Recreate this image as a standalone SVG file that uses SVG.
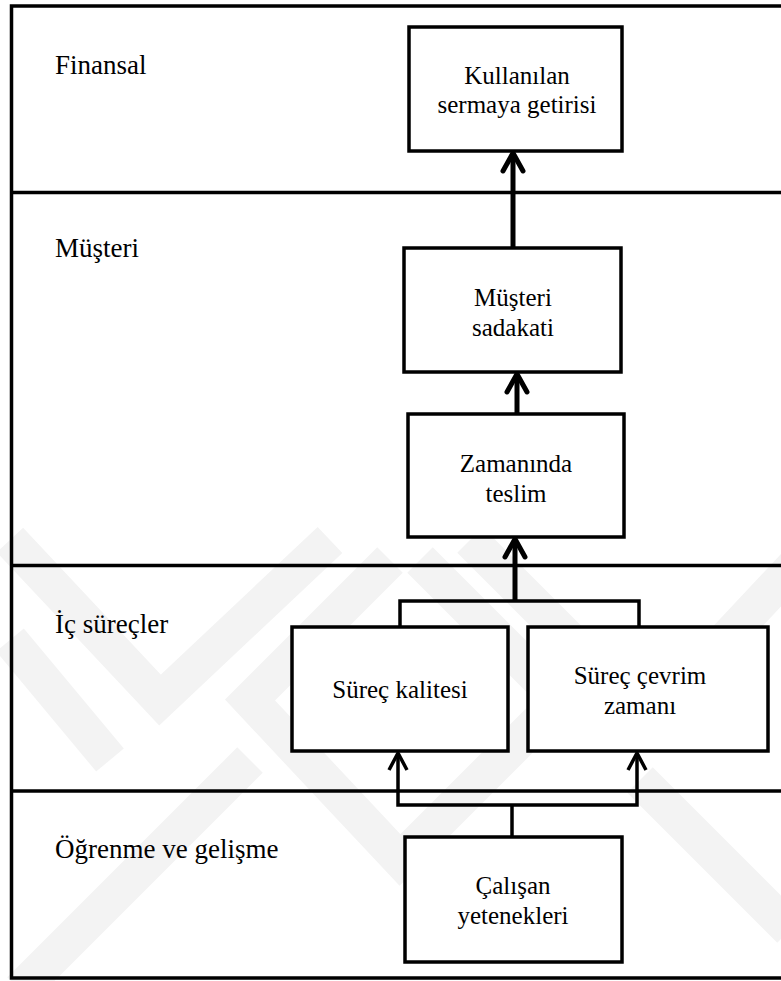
<svg xmlns="http://www.w3.org/2000/svg" width="781" height="981" viewBox="0 0 781 981">
<defs>
<polyline id="head" points="-10,18 0,0 10,18" fill="none" stroke="#000" stroke-width="5" stroke-linejoin="round" stroke-linecap="round"/>
<polyline id="headThin" points="-9,17 0,0 9,17" fill="none" stroke="#000" stroke-width="3.5" stroke-linejoin="round"/>
</defs>
<rect x="0" y="0" width="781" height="981" fill="#fff"/>
<g id="watermark" fill="none" stroke="#f3f3f3" stroke-width="36">
<polyline points="10,540 160,700 330,540"/>
<polyline points="10,640 110,760"/>
<polyline points="390,560 250,700 400,860 560,700 420,560"/>
<polyline points="470,540 650,720 800,560"/>
<polyline points="20,990 250,760"/>
<polyline points="640,780 790,930"/>
</g>
<g id="frame" fill="none" stroke="#000" stroke-width="3.5">
<rect x="11.5" y="6" width="772" height="972"/>
<line x1="11.5" y1="192.5" x2="781" y2="192.5"/>
<line x1="11.5" y1="565.5" x2="781" y2="565.5"/>
<line x1="11.5" y1="791" x2="781" y2="791"/>
</g>
<text x="55" y="74" font-family="Liberation Serif" font-size="27">Finansal</text>
<text x="55" y="257" font-family="Liberation Serif" font-size="27">Müşteri</text>
<text x="55" y="633" font-family="Liberation Serif" font-size="27">İç süreçler</text>
<text x="55" y="858" font-family="Liberation Serif" font-size="27">Öğrenme ve gelişme</text>
<g id="connectors" fill="none" stroke="#000">
<line stroke-width="5" x1="513" y1="248" x2="513" y2="155"/>
<use href="#head" x="513" y="153"/>
<line stroke-width="5" x1="517" y1="414" x2="517" y2="376"/>
<use href="#head" x="517" y="374"/>
<line stroke-width="5" x1="515" y1="601" x2="515" y2="541"/>
<use href="#head" x="515" y="539"/>
<polyline stroke-width="3.5" points="400,627 400,601 639,601 639,627"/>
<polyline stroke-width="3.5" points="398,753 398,805 637,805 637,753"/>
<use href="#headThin" x="398" y="753"/>
<use href="#headThin" x="637" y="753"/>
<line stroke-width="3.5" x1="512" y1="805" x2="512" y2="837"/>
</g>
<g id="n-kullanilan">
<rect x="409" y="27" width="213" height="124" fill="#fff" stroke="#000" stroke-width="3.5"/>
<text font-family="Liberation Serif" font-size="25" text-anchor="middle" x="517" y="84">Kullanılan</text>
<text font-family="Liberation Serif" font-size="25" text-anchor="middle" x="517" y="113">sermaya getirisi</text>
</g>
<g id="n-musteri">
<rect x="404" y="248" width="217" height="124" fill="#fff" stroke="#000" stroke-width="3.5"/>
<text font-family="Liberation Serif" font-size="25" text-anchor="middle" x="513" y="306">Müşteri</text>
<text font-family="Liberation Serif" font-size="25" text-anchor="middle" x="513" y="336">sadakati</text>
</g>
<g id="n-zamaninda">
<rect x="408" y="414" width="216" height="123" fill="#fff" stroke="#000" stroke-width="3.5"/>
<text font-family="Liberation Serif" font-size="25" text-anchor="middle" x="516" y="472">Zamanında</text>
<text font-family="Liberation Serif" font-size="25" text-anchor="middle" x="516" y="502">teslim</text>
</g>
<g id="n-surec-kalitesi">
<rect x="292" y="627" width="216" height="124" fill="#fff" stroke="#000" stroke-width="3.5"/>
<text font-family="Liberation Serif" font-size="25" text-anchor="middle" x="400" y="698">Süreç kalitesi</text>
</g>
<g id="n-surec-cevrim">
<rect x="528" y="627" width="240" height="124" fill="#fff" stroke="#000" stroke-width="3.5"/>
<text font-family="Liberation Serif" font-size="25" text-anchor="middle" x="640" y="684">Süreç çevrim</text>
<text font-family="Liberation Serif" font-size="25" text-anchor="middle" x="640" y="714">zamanı</text>
</g>
<g id="n-calisan">
<rect x="405" y="837" width="217" height="125" fill="#fff" stroke="#000" stroke-width="3.5"/>
<text font-family="Liberation Serif" font-size="25" text-anchor="middle" x="513" y="894">Çalışan</text>
<text font-family="Liberation Serif" font-size="25" text-anchor="middle" x="513" y="924">yetenekleri</text>
</g>
</svg>
